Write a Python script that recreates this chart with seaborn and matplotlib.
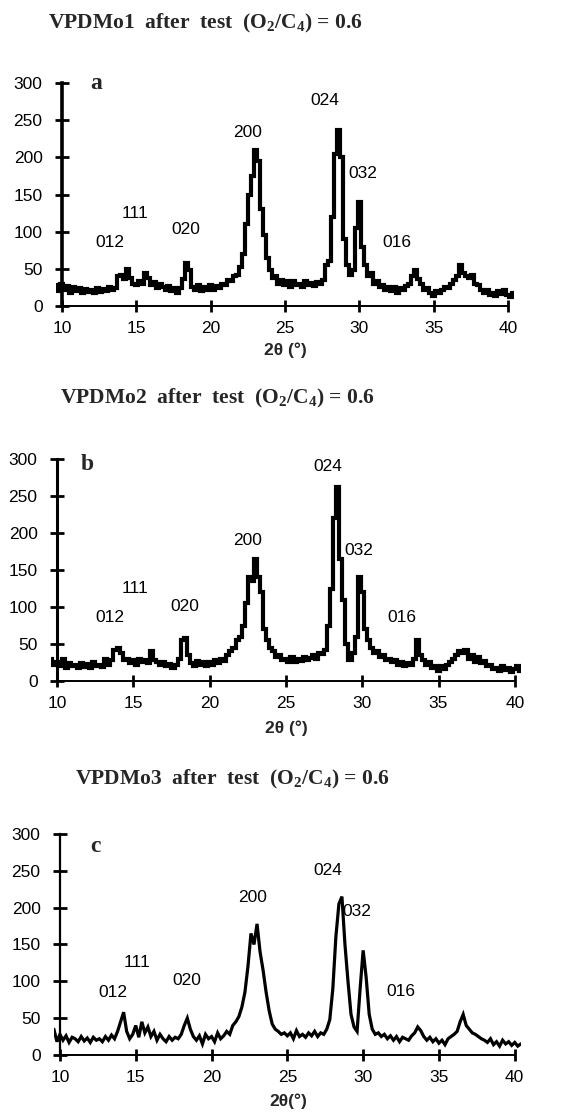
import numpy as np
import pandas as pd
import matplotlib
matplotlib.use("Agg")
import matplotlib.pyplot as plt
import seaborn as sns

# ---------------- data ----------------
two_theta = np.round(np.arange(9.6, 40.41, 0.2), 1)

intensity_a = [
    28, 20,
    30, 22, 27, 18, 25,
    20, 24, 17, 23, 19,
    22, 18, 24, 19, 23,
    20, 25, 21, 24, 40,
    42, 36, 50, 38, 30,
    28, 34, 30, 45, 38,
    28, 32, 24, 30, 26,
    22, 27, 20, 24, 18,
    24, 36, 58, 48, 25,
    22, 28, 20, 26, 22,
    28, 21, 27, 24, 30,
    28, 35, 33, 40, 42,
    52, 70, 110, 150, 175,
    210, 195, 130, 95, 65,
    48, 38, 40, 30, 35,
    28, 33, 26, 34, 28,
    30, 25, 33, 28, 31,
    27, 32, 29, 35, 55,
    60, 120, 205, 237, 200,
    90, 55, 42, 48, 105,
    140, 80, 55, 40, 45,
    30, 34, 26, 28, 22,
    25, 20, 26, 18, 24,
    22, 27, 30, 40, 48,
    36, 30, 22, 24, 18,
    14, 20, 17, 22, 26,
    24, 30, 35, 40, 55,
    45, 40, 38, 42, 30,
    28, 22, 18, 22, 15,
    18, 14, 20, 16, 22,
    15, 12, 17,
]

intensity_b = [
    30, 22,
    25, 20, 30, 18, 24,
    20, 22, 17, 24, 19,
    23, 18, 25, 20, 22,
    19, 30, 22, 28, 42,
    45, 38, 28, 30, 24,
    28, 22, 30, 25, 29,
    24, 40, 28, 26, 22,
    25, 20, 23, 18, 22,
    30, 55, 58, 35, 24,
    20, 27, 22, 26, 20,
    26, 22, 28, 24, 30,
    27, 35, 40, 45, 55,
    60, 75, 105, 140, 135,
    165, 140, 120, 70, 55,
    45, 40, 32, 35, 28,
    30, 26, 32, 25, 30,
    27, 33, 28, 31, 35,
    30, 38, 36, 42, 75,
    125, 220, 262, 165, 110,
    50, 28, 38, 60, 140,
    120, 70, 55, 45, 38,
    40, 32, 35, 28, 30,
    25, 28, 22, 25, 20,
    24, 22, 30, 55, 35,
    28, 22, 25, 18, 20,
    14, 20, 16, 22, 25,
    30, 35, 40, 38, 42,
    30, 35, 26, 32, 24,
    27, 20, 22, 16, 18,
    14, 20, 15, 18, 12,
    16, 20, 14,
]

intensity_c = [
    35, 18,
    28, 20, 26, 17, 24,
    22, 18, 25, 19, 23,
    17, 24, 20, 22, 18,
    25, 20, 27, 22, 32,
    45, 58, 32, 22, 28,
    40, 24, 45, 30, 38,
    25, 32, 20, 28, 22,
    18, 25, 20, 24, 22,
    28, 40, 50, 35, 25,
    20, 26, 15, 28, 22,
    25, 18, 30, 22, 26,
    32, 28, 40, 45, 52,
    65, 85, 120, 165, 150,
    178, 140, 115, 85, 60,
    42, 35, 32, 28, 30,
    26, 30, 22, 33, 25,
    28, 24, 30, 26, 32,
    25, 30, 28, 35, 48,
    90, 160, 205, 215, 150,
    100, 55, 38, 32, 90,
    142, 105, 55, 35, 28,
    30, 25, 28, 22, 26,
    20, 25, 18, 24, 22,
    20, 26, 30, 38, 33,
    25, 20, 24, 18, 22,
    16, 20, 14, 22, 25,
    28, 32, 45, 55, 40,
    35, 30, 28, 25, 22,
    20, 17, 22, 14, 18,
    12, 20, 15, 18, 13,
    17, 12, 15,
]

peak_labels = ["012", "111", "020", "200", "024", "032", "016"]
label_x_a = [13.2, 14.9, 18.3, 22.5, 27.7, 30.25, 32.5]
label_y_a = [85, 125, 103, 233, 277, 178, 85]
label_x_b = [13.45, 15.1, 18.4, 22.5, 27.75, 29.75, 32.6]
label_y_b = [86, 125, 101, 190, 290, 177, 86]
label_x_c = [13.5, 15.05, 18.4, 22.7, 27.7, 29.6, 32.5]
label_y_c = [85, 125, 101, 214, 250, 195, 86]

titles = [
    r"VPDMo1  after  test  (O$_{2}$/C$_{4}$) = 0.6",
    r"VPDMo2  after  test  (O$_{2}$/C$_{4}$) = 0.6",
    r"VPDMo3  after  test  (O$_{2}$/C$_{4}$) = 0.6",
]
panel_letters = ["a", "b", "c"]
x_ticks = [10, 15, 20, 25, 30, 35, 40]
y_ticks = [0, 50, 100, 150, 200, 250, 300]
x_labels = ["2θ (°)", "2θ (°)", "2θ(°)"]

# ---------------- style ----------------
sns.set_style("white")
plt.rcParams["font.family"] = ["Liberation Sans", "DejaVu Sans"]
plt.rcParams["mathtext.fontset"] = "custom"
plt.rcParams["mathtext.rm"] = "Liberation Serif:bold"
plt.rcParams["mathtext.it"] = "Liberation Serif:bold"
plt.rcParams["mathtext.bf"] = "Liberation Serif:bold"

fig = plt.figure(figsize=(5.68, 11.12), dpi=100)

panels = [
    dict(y=intensity_a, lx=label_x_a, ly=label_y_a, rect=[0.0986, 0.7248, 0.806, 0.2005],
         title_xy=(0.361, 0.979), xl_xy=(0.502, 0.685), lw=3.0, ds="steps-mid",
         letter_xy=(12.3, 300), spine_lw=2.6),
    dict(y=intensity_b, lx=label_x_b, ly=label_y_b, rect=[0.0896, 0.3876, 0.8275, 0.1996],
         title_xy=(0.382, 0.642), xl_xy=(0.505, 0.3453), lw=3.0, ds="steps-mid",
         letter_xy=(12.0, 292), spine_lw=2.2),
    dict(y=intensity_c, lx=label_x_c, ly=label_y_c, rect=[0.0949, 0.0513, 0.822, 0.1987],
         title_xy=(0.409, 0.2986), xl_xy=(0.507, 0.0095), lw=2.3, ds="default",
         letter_xy=(12.35, 283), spine_lw=1.6),
]

for i, p in enumerate(panels):
    ax = fig.add_axes(p["rect"])
    df = pd.DataFrame({"two_theta": two_theta, "intensity": p["y"]})
    sns.lineplot(data=df, x="two_theta", y="intensity", ax=ax, color="black",
                 linewidth=p["lw"], drawstyle=p["ds"], estimator=None,
                 solid_joinstyle="miter")
    ax.set_xlim(9.6, 40.4)
    ax.set_ylim(0, 300)
    ax.set_xticks(x_ticks)
    ax.set_yticks(y_ticks)
    ax.set_xlabel("")
    ax.set_ylabel("")
    ax.spines["top"].set_visible(False)
    ax.spines["right"].set_visible(False)
    ax.spines["left"].set_position(("data", 10))
    ax.spines["left"].set_bounds(0, 300)
    ax.spines["left"].set_linewidth(p["spine_lw"])
    ax.spines["bottom"].set_bounds(10, 40)
    ax.spines["bottom"].set_linewidth(1.4)
    ax.spines["left"].set_color("black")
    ax.spines["bottom"].set_color("black")
    ax.tick_params(axis="y", direction="inout", length=10, width=2, pad=9,
                   labelsize=12.5, colors="black", left=True)
    ax.tick_params(axis="x", direction="inout", length=9, width=2, pad=6,
                   labelsize=12.5, colors="black", bottom=True)
    ax.patch.set_alpha(0)

    for lab, lx, ly in zip(peak_labels, p["lx"], p["ly"]):
        ax.text(lx, ly, lab, ha="center", va="center", fontsize=12.5, color="black")

    ax.text(p["letter_xy"][0], p["letter_xy"][1], panel_letters[i], ha="center",
            va="center", fontsize=17, fontweight="bold", family="Liberation Serif")

    fig.text(p["title_xy"][0], p["title_xy"][1], titles[i], ha="center", va="center",
             fontsize=15.5, fontweight="bold", family="Liberation Serif")
    fig.text(p["xl_xy"][0], p["xl_xy"][1], x_labels[i], ha="center", va="center",
             fontsize=12.5, fontweight="bold")

fig.savefig("out.png", dpi=100)
